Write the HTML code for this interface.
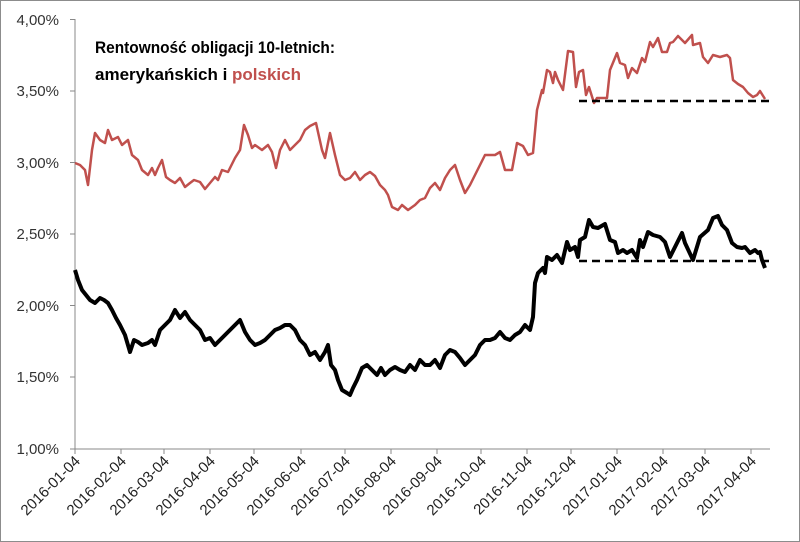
<!DOCTYPE html>
<html><head><meta charset="utf-8"><style>body{margin:0;background:#fff}svg{display:block}</style></head>
<body>
<svg width="800" height="542" xmlns="http://www.w3.org/2000/svg" font-family="Liberation Sans, sans-serif">
<rect x="0.5" y="0.5" width="799" height="541" fill="#fff" stroke="#8c8c8c"/>
<g stroke="#888" stroke-width="1">
<line x1="75" y1="19" x2="75" y2="449"/>
<line x1="75" y1="449" x2="770" y2="449"/>
<line x1="70" y1="19.5" x2="75" y2="19.5"/><line x1="70" y1="91" x2="75" y2="91"/><line x1="70" y1="162.5" x2="75" y2="162.5"/><line x1="70" y1="234" x2="75" y2="234"/><line x1="70" y1="305.5" x2="75" y2="305.5"/><line x1="70" y1="377" x2="75" y2="377"/><line x1="70" y1="449" x2="75" y2="449"/>
<line x1="75" y1="449" x2="75" y2="454"/><line x1="121" y1="449" x2="121" y2="454"/><line x1="164" y1="449" x2="164" y2="454"/><line x1="210" y1="449" x2="210" y2="454"/><line x1="254" y1="449" x2="254" y2="454"/><line x1="301" y1="449" x2="301" y2="454"/><line x1="345" y1="449" x2="345" y2="454"/><line x1="391" y1="449" x2="391" y2="454"/><line x1="437" y1="449" x2="437" y2="454"/><line x1="481" y1="449" x2="481" y2="454"/><line x1="527" y1="449" x2="527" y2="454"/><line x1="571" y1="449" x2="571" y2="454"/><line x1="617" y1="449" x2="617" y2="454"/><line x1="663" y1="449" x2="663" y2="454"/><line x1="705" y1="449" x2="705" y2="454"/><line x1="751" y1="449" x2="751" y2="454"/>
</g>
<g font-size="15" fill="#333" text-anchor="end">
<text x="59" y="25">4,00%</text><text x="59" y="96">3,50%</text><text x="59" y="168">3,00%</text><text x="59" y="239">2,50%</text><text x="59" y="311">2,00%</text><text x="59" y="382">1,50%</text><text x="59" y="454">1,00%</text>
</g>
<g font-size="15" fill="#222" text-anchor="end">
<text transform="translate(81,462) rotate(-45)">2016-01-04</text>
<text transform="translate(127,462) rotate(-45)">2016-02-04</text>
<text transform="translate(170,462) rotate(-45)">2016-03-04</text>
<text transform="translate(216,462) rotate(-45)">2016-04-04</text>
<text transform="translate(260,462) rotate(-45)">2016-05-04</text>
<text transform="translate(307,462) rotate(-45)">2016-06-04</text>
<text transform="translate(351,462) rotate(-45)">2016-07-04</text>
<text transform="translate(397,462) rotate(-45)">2016-08-04</text>
<text transform="translate(443,462) rotate(-45)">2016-09-04</text>
<text transform="translate(487,462) rotate(-45)">2016-10-04</text>
<text transform="translate(533,462) rotate(-45)">2016-11-04</text>
<text transform="translate(577,462) rotate(-45)">2016-12-04</text>
<text transform="translate(623,462) rotate(-45)">2017-01-04</text>
<text transform="translate(669,462) rotate(-45)">2017-02-04</text>
<text transform="translate(711,462) rotate(-45)">2017-03-04</text>
<text transform="translate(757,462) rotate(-45)">2017-04-04</text>
</g>
<text x="95" y="53" font-size="17" font-weight="bold" fill="#000" textLength="240" lengthAdjust="spacingAndGlyphs">Rentowność obligacji 10-letnich:</text>
<text x="95" y="80" font-size="17" font-weight="bold" fill="#000">amerykańskich i <tspan fill="#C0504D">polskich</tspan></text>
<polyline fill="none" stroke="#C0504D" stroke-width="2.5" stroke-linejoin="round" points="75,163 80,165 85,170 88,185 92,150 95,133 100,140 105,143 108,130 112,140 118,137 122,145 128,140 132,155 138,160 142,170 148,175 152,168 155,175 158,168 162,160 166,177 170,180 175,183 180,178 185,187 190,183 194,180 200,182 205,189 210,183 215,177 218,180 222,170 228,172 235,158 240,150 244,125 248,135 252,148 255,145 262,150 268,145 272,152 276,168 280,150 285,140 290,150 295,145 300,140 305,130 310,126 316,123 322,150 325,158 330,133 335,155 340,175 345,180 350,178 355,172 360,180 365,175 370,172 375,176 380,185 385,190 388,195 392,207 398,210 402,205 408,210 415,205 420,200 425,198 430,188 435,183 440,190 445,178 450,170 455,165 460,180 465,193 470,185 475,175 480,165 485,155 490,155 495,155 500,152 505,170 512,170 517,143 523,146 528,155 533,153 537,110 542,90 543,93 547,70 550,72 553,83 555,72 558,80 563,90 568,51 573,52 576,87 579,72 583,70 586,95 589,87 594,103 597,98 607,98 610,70 617,53 620,63 625,65 628,78 632,68 637,73 642,58 645,62 650,42 653,47 658,38 662,52 667,52 670,43 673,42 678,36 682,40 685,43 692,35 693,45 700,43 703,57 708,63 713,55 720,57 727,55 730,58 733,80 738,84 743,87 748,93 753,97 757,95 760,91 765,99"/>
<polyline fill="none" stroke="#000" stroke-width="4" stroke-linejoin="round" points="75,270 78,280 82,290 86,295 90,300 95,303 100,298 104,300 108,303 112,310 116,318 120,325 125,335 130,352 134,340 138,342 142,345 148,343 152,340 155,345 160,330 165,325 170,320 175,310 180,318 185,312 190,320 195,325 200,330 205,340 210,338 215,345 220,340 225,335 230,330 235,325 240,320 245,332 250,340 255,345 260,343 265,340 270,335 275,330 280,328 285,325 290,325 295,330 300,340 305,345 310,355 315,352 320,360 325,352 328,345 331,365 335,370 338,380 342,390 347,393 350,395 353,388 357,380 362,368 367,365 372,370 377,375 381,368 385,375 390,370 395,367 400,370 405,372 410,365 415,370 420,360 425,365 430,365 435,360 440,368 445,355 450,350 455,352 460,358 465,365 470,360 475,355 480,345 485,340 490,340 495,338 500,332 505,338 510,340 515,335 520,332 525,325 530,330 533,317 535,283 538,273 543,268 545,273 547,257 552,260 557,255 562,263 567,242 570,250 575,247 578,257 580,240 585,237 589,220 593,227 598,228 605,224 610,240 615,242 618,253 623,250 627,253 632,250 637,258 640,240 643,247 648,232 653,235 660,237 665,242 670,257 677,243 682,233 685,243 693,260 700,237 708,230 713,218 718,216 722,225 727,230 732,243 737,247 742,248 745,247 750,253 755,250 758,253 760,252 762,260 765,268"/>
<line x1="579" y1="101" x2="770" y2="101" stroke="#000" stroke-width="2.5" stroke-dasharray="8,5"/>
<line x1="579" y1="261" x2="770" y2="261" stroke="#000" stroke-width="2.5" stroke-dasharray="8,5"/>
</svg>
</body></html>
